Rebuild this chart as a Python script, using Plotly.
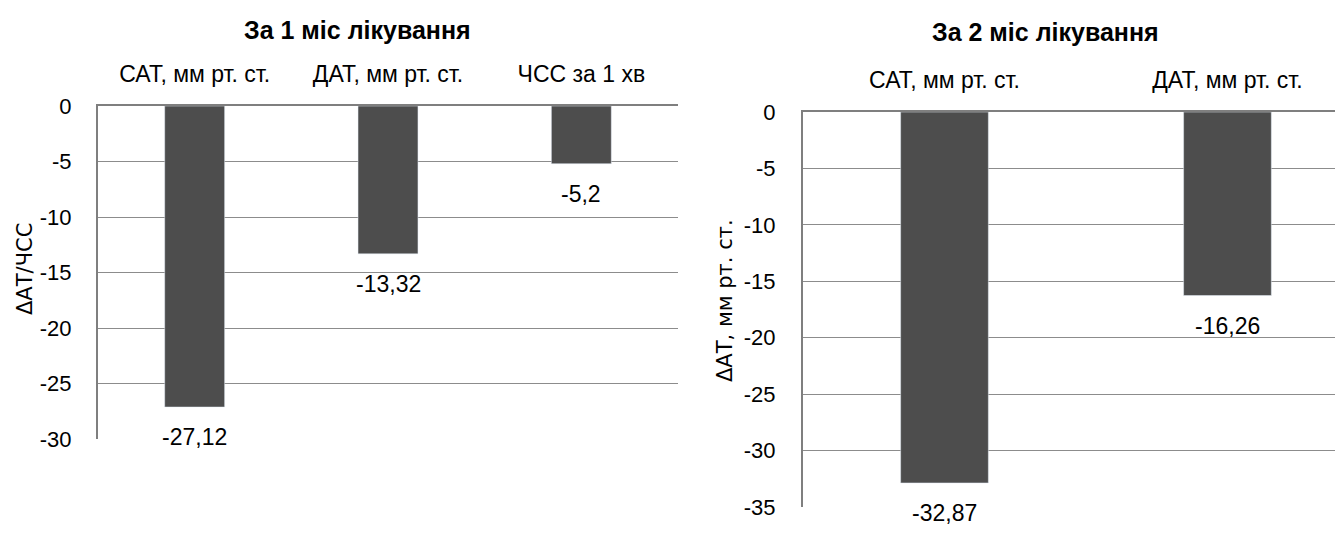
import plotly.graph_objects as go

# Data
cats1 = ["САТ, мм рт. ст.", "ДАТ, мм рт. ст.", "ЧСС за 1 хв"]
vals1 = [-27.12, -13.32, -5.2]
labels1 = ["-27,12", "-13,32", "-5,2"]

cats2 = ["САТ, мм рт. ст.", "ДАТ, мм рт. ст."]
vals2 = [-32.87, -16.26]
labels2 = ["-32,87", "-16,26"]

title1 = "За 1 міс лікування"
title2 = "За 2 міс лікування"
ytitle1 = "ΔАТ/ЧСС"
ytitle2 = "ΔАТ, мм рт. ст."
yticks1 = [0, -5, -10, -15, -20, -25, -30]
yticks2 = [0, -5, -10, -15, -20, -25, -30, -35]

BAR = "#4d4d4d"
GRID = "#8c8c8c"
AXIS = "#7f7f7f"
FONT = "Liberation Sans, Arial, sans-serif"
YTFONT = "DejaVu Sans, sans-serif"

fig = go.Figure()
fig.add_trace(go.Bar(x=cats1, y=vals1, marker_color=BAR, width=0.31,
                     xaxis="x", yaxis="y", showlegend=False, hoverinfo="x+y"))
fig.add_trace(go.Bar(x=cats2, y=vals2, marker_color=BAR, width=0.31,
                     xaxis="x2", yaxis="y2", showlegend=False, hoverinfo="x+y"))

tickfont = dict(size=22, color="#000000", family=FONT)
catfont = dict(size=23, color="#000000", family=FONT)

annotations = []
for c, v, t in zip(cats1, vals1, labels1):
    annotations.append(dict(x=c, y=v, xref="x", yref="y", text=t, showarrow=False,
                            yshift=-30, xanchor="center", yanchor="middle",
                            font=dict(size=23, color="#000000", family=FONT)))
for c, v, t in zip(cats2, vals2, labels2):
    annotations.append(dict(x=c, y=v, xref="x2", yref="y2", text=t, showarrow=False,
                            yshift=-30, xanchor="center", yanchor="middle",
                            font=dict(size=23, color="#000000", family=FONT)))

annotations += [
    dict(text="<b>" + title1 + "</b>", x=357/1335, y=1 - 30/537, xref="paper", yref="paper",
         showarrow=False, xanchor="center", yanchor="middle",
         font=dict(size=25, color="#000000", family=FONT)),
    dict(text="<b>" + title2 + "</b>", x=1045/1335, y=1 - 32/537, xref="paper", yref="paper",
         showarrow=False, xanchor="center", yanchor="middle",
         font=dict(size=25, color="#000000", family=FONT)),
    dict(text=ytitle1, x=25/1335, y=1 - 269/537, xref="paper", yref="paper",
         showarrow=False, xanchor="center", yanchor="middle", textangle=-90,
         font=dict(size=21, color="#000000", family=YTFONT)),
    dict(text=ytitle2, x=725/1335, y=1 - 301/537, xref="paper", yref="paper",
         showarrow=False, xanchor="center", yanchor="middle", textangle=-90,
         font=dict(size=21, color="#000000", family=YTFONT)),
]

fig.update_layout(
    width=1335, height=537,
    margin=dict(l=0, r=0, t=0, b=0, autoexpand=False),
    paper_bgcolor="white", plot_bgcolor="white",
    xaxis=dict(domain=[98/1335, 678/1335], anchor="y", side="top", automargin=False,
               range=[-0.5, 2.5], showline=True, linecolor=AXIS, linewidth=2,
               showgrid=False, ticks="outside", ticklen=13, tickcolor="rgba(0,0,0,0)",
               tickfont=catfont, fixedrange=True),
    yaxis=dict(domain=[98/537, 431/537], anchor="x", range=[-30, 0], automargin=False,
               tickvals=yticks1, ticktext=[str(v) for v in yticks1],
               showline=True, linecolor=AXIS, linewidth=2,
               showgrid=True, gridcolor=GRID, gridwidth=1, zeroline=False,
               ticks="outside", ticklen=20, tickcolor="rgba(0,0,0,0)",
               tickfont=tickfont),
    xaxis2=dict(domain=[803/1335, 1.0], anchor="y2", side="top", automargin=False,
                range=[-0.5, 1.38], showline=True, linecolor=AXIS, linewidth=2,
                showgrid=False, ticks="outside", ticklen=13, tickcolor="rgba(0,0,0,0)",
                tickfont=catfont, fixedrange=True),
    yaxis2=dict(domain=[30/537, 425/537], anchor="x2", range=[-35, 0], automargin=False,
                tickvals=yticks2, ticktext=[str(v) for v in yticks2],
                showline=True, linecolor=AXIS, linewidth=2,
                showgrid=True, gridcolor=GRID, gridwidth=1, zeroline=False,
                ticks="outside", ticklen=21, tickcolor="rgba(0,0,0,0)",
                tickfont=tickfont),
    annotations=annotations,
)

fig.write_html("out.html")
